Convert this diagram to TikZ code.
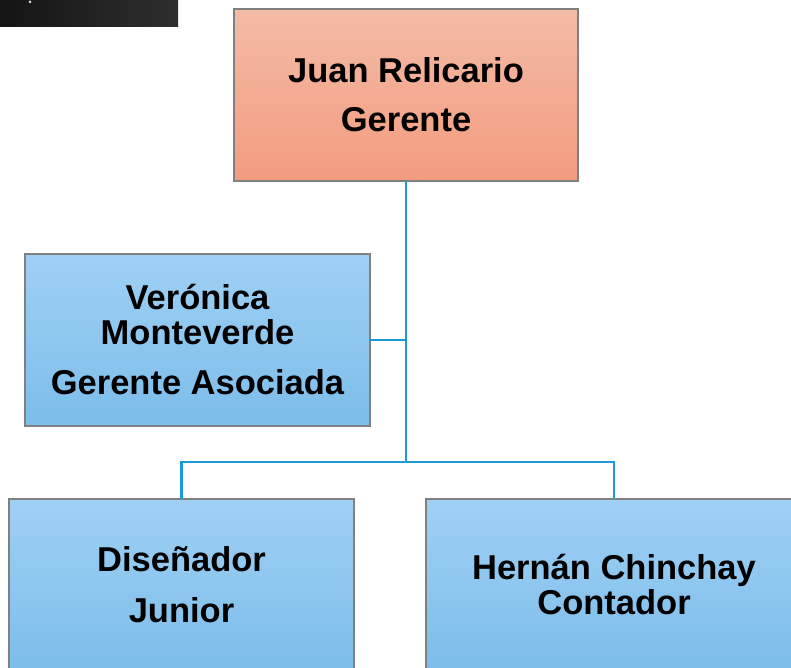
\documentclass[tikz,border=0pt]{standalone}
\usepackage{fontspec}
\setmainfont{Liberation Sans}
\usepackage{xcolor}
\usepackage{tikz}

\definecolor{salmontop}{HTML}{F4BBA6}
\definecolor{salmonbot}{HTML}{F29C7F}
\definecolor{bluetop}{HTML}{9FD0F4}
\definecolor{bluebot}{HTML}{7CBDEA}
\definecolor{linkblue}{HTML}{1A9BD7}
\definecolor{edgegray}{HTML}{808080}

\begin{document}
\begin{tikzpicture}[x=1pt,y=-1pt,
	box/.style={draw=edgegray, line width=1.2pt, inner sep=0pt, outer sep=0pt,
		minimum height=172pt, align=center,
		font=\fontsize{34.5}{35}\selectfont\bfseries},
	boss/.style={box, top color=salmontop, bottom color=salmonbot},
	staff/.style={box, top color=bluetop, bottom color=bluebot},
	link/.style={draw=linkblue, line width=2.4pt}]
	\useasboundingbox (0,0) rectangle (791,668);
	\clip (0,0) rectangle (791,668);

	%\draw (0,0) rectangle (791,668);
	\shade[left color=black!92, right color=black!82] (0,0) rectangle (178,27);
	\fill[white!85!black] (30,2) circle (1.5);

	\node[boss, minimum width=344pt] (gerente) at (406,95) {Juan Relicario\\[14pt]Gerente};
	\node[staff, minimum width=345pt] (asociada) at (197.5,340) {Ver\'onica\\Monteverde\\[15pt]Gerente Asociada};
	\node[staff, minimum width=345pt] (disenador) at (181.5,585) {Dise\~nador\\[16pt]Junior};
	\node[staff, minimum width=376pt] (contador) at (614,585) {Hern\'an Chinchay\\Contador};

	\coordinate (bus) at (406,462);
	\draw[link] (gerente.south) -- (bus);
	\draw[link] (asociada.east) -- (asociada.east -| bus);
	\draw[link] (disenador.north) |- (bus) -| (contador.north);

\end{tikzpicture}
\end{document}
